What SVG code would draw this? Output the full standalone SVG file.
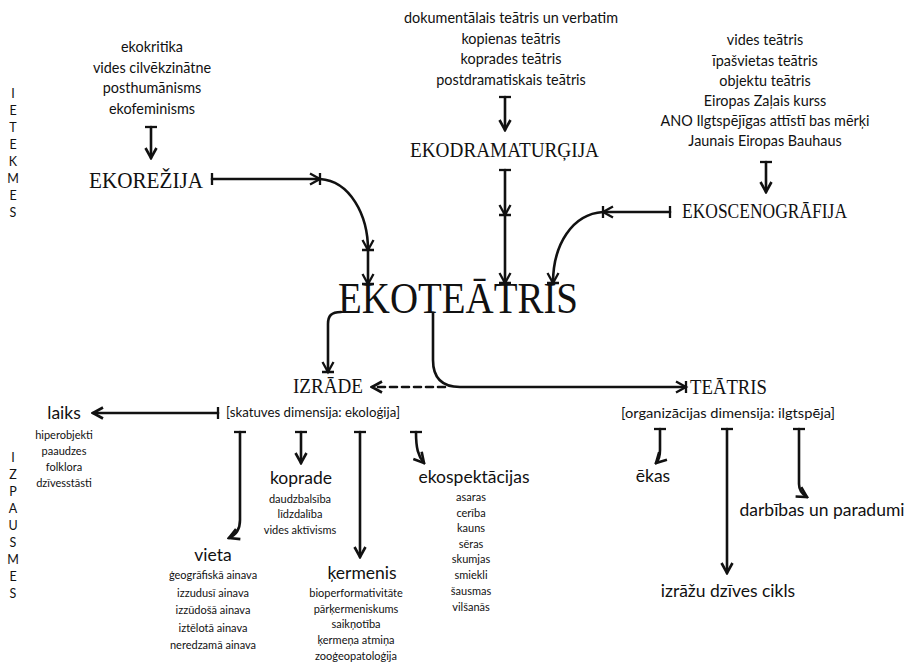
<svg xmlns="http://www.w3.org/2000/svg" width="908" height="662" viewBox="0 0 908 662">
<style>
.t{font-family:Lato,"Open Sans","Liberation Sans",sans-serif;fill:#111;text-anchor:middle}
.s13{font-size:14.4px}
.s10{font-size:11px}
.s17{font-size:17.5px}
.s14{font-size:14px}
.h{font-family:"Liberation Serif","DejaVu Serif",serif;fill:#111}
.side{font-family:Lato,"Open Sans",sans-serif;font-size:12.5px;fill:#111;text-anchor:middle}
.c{fill:none;stroke:#111;stroke-width:2.6;stroke-linecap:round}
</style>
<defs>
<marker id="arr" viewBox="0 0 14 14" refX="12" refY="7" markerWidth="14" markerHeight="14" markerUnits="userSpaceOnUse" orient="auto">
<path d="M2,1.5 L12,7 L2,12.5" fill="none" stroke="#111" stroke-width="2.6" stroke-linejoin="miter"/>
</marker>
<marker id="arrbar" viewBox="0 0 16 14" refX="12" refY="7" markerWidth="16" markerHeight="14" markerUnits="userSpaceOnUse" orient="auto">
<path d="M2,1.5 L12,7 L2,12.5 M12,1 L12,13" fill="none" stroke="#111" stroke-width="2.3"/>
</marker>
<marker id="bar" viewBox="0 0 6 14" refX="3" refY="7" markerWidth="6" markerHeight="14" markerUnits="userSpaceOnUse" orient="auto">
<path d="M3,1 L3,13" stroke="#111" stroke-width="2.3"/>
</marker>
</defs>
<rect width="908" height="662" fill="#fff"/>

<g id="side-ietekmes">
<text class="side" x="13" y="97.5">I</text>
<text class="side" x="13" y="114.5">E</text>
<text class="side" x="13" y="131.5">T</text>
<text class="side" x="13" y="148.5">E</text>
<text class="side" x="13" y="165.5">K</text>
<text class="side" x="13" y="182.5">M</text>
<text class="side" x="13" y="199.5">E</text>
<text class="side" x="13" y="216.5">S</text>
</g>
<g id="side-izpausmes">
<text class="side" x="13" y="461.5">I</text>
<text class="side" x="13" y="478.5">Z</text>
<text class="side" x="13" y="495.5">P</text>
<text class="side" x="13" y="512.5">A</text>
<text class="side" x="13" y="529.5">U</text>
<text class="side" x="13" y="546.5">S</text>
<text class="side" x="13" y="563.5">M</text>
<text class="side" x="13" y="580.5">E</text>
<text class="side" x="13" y="597.5">S</text>
</g>

<g id="src-rezija">
<text class="t s13" x="152" y="52">ekokritika</text>
<text class="t s13" x="152" y="72.5">vides cilvēkzinātne</text>
<text class="t s13" x="152" y="93">posthumānisms</text>
<text class="t s13" x="152" y="113.5">ekofeminisms</text>
</g>
<g id="src-dramaturgija">
<text class="t s13" x="511" y="23">dokumentālais teātris un verbatim</text>
<text class="t s13" x="511" y="43.5">kopienas teātris</text>
<text class="t s13" x="511" y="64">koprades teātris</text>
<text class="t s13" x="511" y="84.5">postdramatiskais teātris</text>
</g>
<g id="src-scenografija">
<text class="t s13" x="765" y="45">vides teātris</text>
<text class="t s13" x="765" y="65.5">īpašvietas teātris</text>
<text class="t s13" x="765" y="85.5">objektu teātris</text>
<text class="t s13" x="765" y="106">Eiropas Zaļais kurss</text>
<text class="t s13" x="765" y="126">ANO Ilgtspējīgas attīstī bas mērķi</text>
<text class="t s13" x="765" y="146">Jaunais Eiropas Bauhaus</text>
</g>

<g id="ekorezija"><text class="h" x="89" y="188" font-size="23" textLength="114" lengthAdjust="spacingAndGlyphs">EKOREŽIJA</text></g>
<g id="ekodramaturgija"><text class="h" x="410" y="157" font-size="22" textLength="189" lengthAdjust="spacingAndGlyphs">EKODRAMATURĢIJA</text></g>
<g id="ekoscenografija"><text class="h" x="682" y="218" font-size="22" textLength="165" lengthAdjust="spacingAndGlyphs">EKOSCENOGRĀFIJA</text></g>
<g id="ekoteatris"><text class="h" x="338" y="313" font-size="44" textLength="240" lengthAdjust="spacingAndGlyphs">EKOTEĀTRIS</text></g>
<g id="izrade">
<text class="h" x="293" y="393" font-size="22" textLength="70" lengthAdjust="spacingAndGlyphs">IZRĀDE</text>
<text class="t s14" x="313" y="417" textLength="174" lengthAdjust="spacingAndGlyphs">[skatuves dimensija: ekoloģija]</text>
</g>
<g id="teatris">
<text class="h" x="690" y="394" font-size="22" textLength="77" lengthAdjust="spacingAndGlyphs">TEĀTRIS</text>
<text class="t s14" x="728" y="418" textLength="214" lengthAdjust="spacingAndGlyphs">[organizācijas dimensija: ilgtspēja]</text>
</g>

<g id="laiks">
<text class="t s17" x="64" y="419">laiks</text>
<text class="t s10" x="64" y="439">hiperobjekti</text>
<text class="t s10" x="64" y="454.5">paaudzes</text>
<text class="t s10" x="64" y="470.5">folklora</text>
<text class="t s10" x="64" y="486.5">dzīvesstāsti</text>
</g>
<g id="vieta">
<text class="t s17" x="213" y="561">vieta</text>
<text class="t s10" x="213" y="579">ģeogrāfiskā ainava</text>
<text class="t s10" x="213" y="596.5">izzudusī ainava</text>
<text class="t s10" x="213" y="614">izzūdošā ainava</text>
<text class="t s10" x="213" y="631.5">iztēlotā ainava</text>
<text class="t s10" x="213" y="649">neredzamā ainava</text>
</g>
<g id="koprade">
<text class="t s17" x="301" y="484">koprade</text>
<text class="t s10" x="300" y="502.5">daudzbalsība</text>
<text class="t s10" x="300" y="518">līdzdalība</text>
<text class="t s10" x="300" y="533.5">vides aktīvisms</text>
</g>
<g id="kermenis">
<text class="t s17" x="362" y="579">ķermenis</text>
<text class="t s10" x="356" y="597">bioperformativitāte</text>
<text class="t s10" x="356" y="612.5">pārķermeniskums</text>
<text class="t s10" x="356" y="628">saikņotība</text>
<text class="t s10" x="356" y="643.5">ķermeņa atmiņa</text>
<text class="t s10" x="356" y="660">zooģeopatoloģija</text>
</g>
<g id="ekospektacijas">
<text class="t s17" x="474" y="483">ekospektācijas</text>
<text class="t s10" x="471" y="501">asaras</text>
<text class="t s10" x="471" y="516.5">cerība</text>
<text class="t s10" x="471" y="532">kauns</text>
<text class="t s10" x="471" y="547.5">sēras</text>
<text class="t s10" x="471" y="563">skumjas</text>
<text class="t s10" x="471" y="578.5">smiekli</text>
<text class="t s10" x="471" y="594.5">šausmas</text>
<text class="t s10" x="471" y="610.5">vilšanās</text>
</g>
<g id="ekas"><text class="t s17" x="653" y="482">ēkas</text></g>
<g id="darbibas"><text class="t s17" x="822" y="516">darbības un paradumi</text></g>
<g id="cikls"><text class="t s17" x="728" y="597">izrāžu dzīves cikls</text></g>

<g id="connectors">
<path class="c" d="M151,127 L151,158" marker-start="url(#bar)" marker-end="url(#arr)"/>
<path class="c" d="M505,97 L505,130" marker-start="url(#bar)" marker-end="url(#arr)"/>
<path class="c" d="M766,162 L766,192" marker-start="url(#bar)" marker-end="url(#arr)"/>

<path class="c" d="M212,179 L320,179" marker-start="url(#bar)" marker-end="url(#arrbar)"/>
<path class="c" d="M320,179 C350,181 368,215 368,250" marker-end="url(#arrbar)"/>
<path class="c" d="M368,250 L368,284" marker-end="url(#arrbar)"/>

<path class="c" d="M505,170 L505,215" marker-start="url(#bar)" marker-end="url(#arrbar)"/>
<path class="c" d="M505,215 L505,283" marker-end="url(#arrbar)"/>

<path class="c" d="M670,212 L603,212" marker-start="url(#bar)" marker-end="url(#arrbar)"/>
<path class="c" d="M603,212 C572,214 553,245 553,283" marker-end="url(#arrbar)"/>

<path class="c" d="M341,312 C331,312 328,316 328,324 L328,372" marker-end="url(#arrbar)"/>
<path class="c" d="M433,313 L433,360 C433,378 442,387 460,387 L686,387" marker-end="url(#arrbar)"/>
<path class="c" d="M445,387 L372,387" stroke-dasharray="7,5" marker-end="url(#arr)"/>

<path class="c" d="M218,413 L93,413" marker-start="url(#bar)" marker-end="url(#arr)"/>
<path class="c" d="M240,432 L240,520 C240,530 236,535 229,538" marker-start="url(#bar)" marker-end="url(#arr)"/>
<path class="c" d="M301,432 L301,463" marker-start="url(#bar)" marker-end="url(#arr)"/>
<path class="c" d="M360,432 L360,557" marker-start="url(#bar)" marker-end="url(#arr)"/>
<path class="c" d="M416,432 C416,448 418,456 424,463" marker-start="url(#bar)" marker-end="url(#arr)"/>

<path class="c" d="M660,429 L660,450 C660,456 659,460 656,463" marker-start="url(#bar)" marker-end="url(#arr)"/>
<path class="c" d="M727,429 L727,573" marker-start="url(#bar)" marker-end="url(#arr)"/>
<path class="c" d="M799,429 L799,484 C799,490 802,494 807,497" marker-start="url(#bar)" marker-end="url(#arr)"/>
</g>
</svg>
